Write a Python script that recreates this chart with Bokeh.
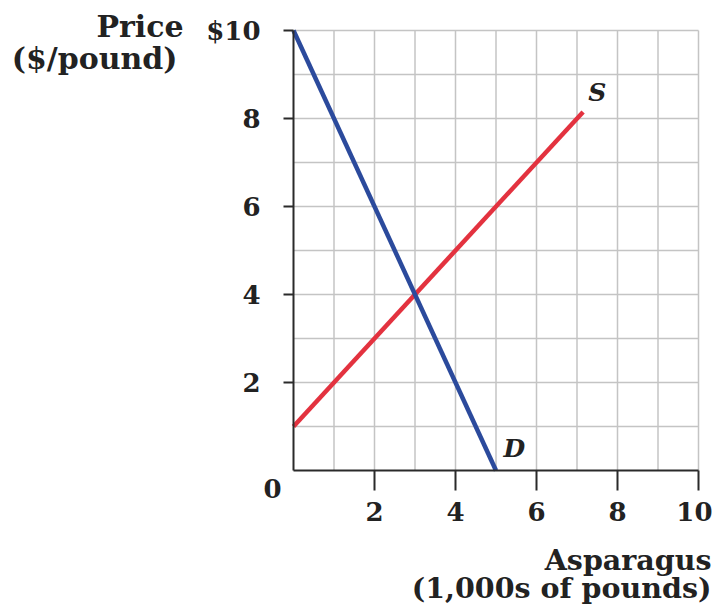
from bokeh.plotting import figure
from bokeh.models import FixedTicker, Label, Range1d, LinearAxis
from bokeh.embed import file_html
from bokeh.resources import INLINE

# Data
demand_q = [0, 5]
demand_p = [10, 0]
supply_q = [0, 7.15]
supply_p = [1, 8.15]
tick_values = [2, 4, 6, 8, 10]
grid_values = [1, 2, 3, 4, 5, 6, 7, 8, 9, 10]
y_tick_labels = {10: "$10"}
x_title = ["Asparagus", "(1,000s of pounds)"]
y_title = ["Price", "($/pound)"]
origin_label = "0"

FONT = "DejaVu Serif"
W, H = 712, 607
# frame geometry (pixels): x=0 at 293, x=10 at 698; y=10 at 30, y=0 at 470
PX_X = (698 - 293) / 10.0
PX_Y = (470 - 30) / 10.0

p = figure(width=W, height=H, output_backend="svg", toolbar_location=None,
           x_range=Range1d(-293 / PX_X, 10 + (W - 698) / PX_X),
           y_range=Range1d(-(H - 470) / PX_Y, 10 + 30 / PX_Y),
           x_axis_location=None, y_axis_location=None,
           min_border=0, min_border_left=0, min_border_right=0,
           min_border_top=0, min_border_bottom=0)
p.outline_line_color = None
p.background_fill_color = "white"
p.border_fill_color = "white"
p.xgrid.visible = False
p.ygrid.visible = False

# grid lines (every 1 unit inside the 0..10 box)
n = len(grid_values)
p.segment(x0=grid_values, y0=[0] * n, x1=grid_values, y1=[10] * n,
          line_color="#c4c4c4", line_width=1.5)
p.segment(x0=[0] * n, y0=grid_values, x1=[10] * n, y1=grid_values,
          line_color="#c4c4c4", line_width=1.5)

# axes fixed at the origin
xaxis = LinearAxis(fixed_location=0, bounds=(0, 10))
yaxis = LinearAxis(fixed_location=0, bounds=(0, 10))
for ax in (xaxis, yaxis):
    ax.ticker = FixedTicker(ticks=tick_values)
    ax.axis_line_color = "#2a2a2a"
    ax.axis_line_width = 2
    ax.major_tick_line_color = "#2a2a2a"
    ax.major_tick_line_width = 2
    ax.minor_tick_line_color = None
    ax.major_tick_in = 0
    ax.major_label_text_font = FONT
    ax.major_label_text_font_style = "bold"
    ax.major_label_text_font_size = "26px"
    ax.major_label_text_color = "#222222"

xaxis.major_tick_out = 20
xaxis.major_label_standoff = 11
yaxis.major_tick_out = 10
yaxis.major_label_standoff = 23
yaxis.major_label_overrides = y_tick_labels

# curves
p.line(supply_q, supply_p, line_color="#e3323f", line_width=4.5)
p.line(demand_q, demand_p, line_color="#2b4a9c", line_width=4.5)

p.add_layout(xaxis, "below")
p.add_layout(yaxis, "left")

# labels
def lab(x, y, text, align="left", baseline="alphabetic", size="28px", style="bold"):
    p.add_layout(Label(x=x, y=y, text=text, text_font=FONT, text_font_size=size,
                       text_font_style=style, text_align=align,
                       text_baseline=baseline, text_color="#222222"))

lab(-0.52, -0.42, origin_label, align="center", baseline="middle", size="26px")
lab(10.32, -2.045, x_title[0], align="right", size="28.5px")
lab(10.32, -2.68, x_title[1], align="right", size="28.5px")
lab(-2.716, 10.09, y_title[0], align="right", size="30px")
lab(-2.864, 9.36, y_title[1], align="right", size="30px")
lab(7.5, 8.6, "S", align="center", baseline="middle", size="25px", style="bold italic")
lab(5.45, 0.5, "D", align="center", baseline="middle", size="25px", style="bold italic")

open("out.html", "w").write(file_html(p, INLINE))
